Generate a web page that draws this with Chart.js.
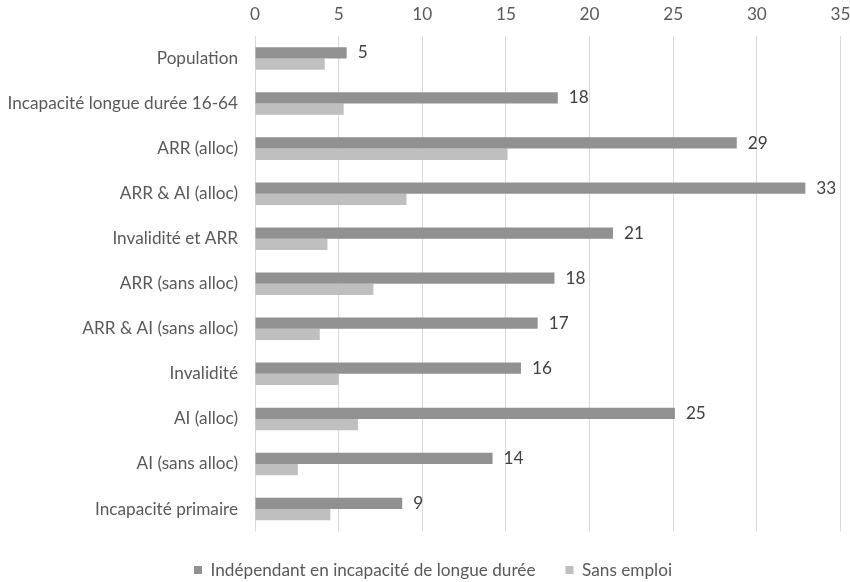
<!DOCTYPE html>
<html>
<head>
<meta charset="utf-8">
<script src="https://cdn.jsdelivr.net/npm/chart.js@4.4.0/dist/chart.umd.min.js"></script>
<style>
  html, body { margin: 0; padding: 0; background: #ffffff; }
  #wrap { width: 850px; height: 582px; position: relative; }
</style>
</head>
<body>
<div id="wrap"><canvas id="c" width="850" height="582"></canvas></div>
<script>
const categories = [
  "Population",
  "Incapacité longue durée 16-64",
  "ARR (alloc)",
  "ARR & AI (alloc)",
  "Invalidité et ARR",
  "ARR (sans alloc)",
  "ARR & AI (sans alloc)",
  "Invalidité",
  "AI (alloc)",
  "AI (sans alloc)",
  "Incapacité primaire"
];
const seriesNames = ["Indépendant en incapacité de longue durée", "Sans emploi"];
const independant = [5.48, 18.1, 28.8, 32.9, 21.4, 17.9, 16.9, 15.9, 25.1, 14.2, 8.8];
const sansEmploi = [4.17, 5.3, 15.1, 9.06, 4.33, 7.08, 3.87, 5.01, 6.15, 2.56, 4.5];
const xTicks = [0, 5, 10, 15, 20, 25, 30, 35];

const FONT = "Lato, 'Open Sans', sans-serif";
const FS = 17.2;
const TEXT = "#595959";

const valueLabels = {
  id: 'valueLabels',
  afterDatasetsDraw(chart) {
    const ctx = chart.ctx;
    const meta = chart.getDatasetMeta(0);
    ctx.save();
    ctx.font = FS + "px " + FONT;
    ctx.fillStyle = "#404040";
    ctx.textAlign = "left";
    ctx.textBaseline = "middle";
    meta.data.forEach((bar, i) => {
      ctx.fillText(String(Math.round(independant[i])), bar.x + 11, bar.y);
    });
    ctx.restore();
  }
};

const legendTweak = {
  id: 'legendTweak',
  beforeLayout(chart) {
    const lg = chart.legend;
    if (lg && !lg._patched) {
      const f = lg.fit;
      lg.fit = function () { f.call(this); this.height = 50.5; };
      lg._patched = true;
    }
  },
  afterLayout(chart) {
    const lg = chart.legend;
    if (lg) { lg.left += 8; lg.right += 8; }
  }
};

new Chart(document.getElementById('c'), {
  type: 'bar',
  data: {
    labels: categories,
    datasets: [
      { label: seriesNames[0], data: independant, backgroundColor: '#919191',
        categoryPercentage: 0.5, barPercentage: 1.0, borderWidth: 0 },
      { label: seriesNames[1], data: sansEmploi, backgroundColor: '#bfbfbf',
        categoryPercentage: 0.5, barPercentage: 1.0, borderWidth: 0 }
    ]
  },
  options: {
    indexAxis: 'y',
    responsive: false,
    animation: false,
    devicePixelRatio: 1,
    layout: { padding: { left: 0, right: 0, top: 0, bottom: 0 } },
    scales: {
      x: {
        position: 'top',
        min: 0, max: 35,
        afterBuildTicks(axis) { axis.ticks = xTicks.map(v => ({ value: v })); },
        afterFit(axis) { axis.height = 36; axis.paddingRight = 9.5; axis.paddingLeft = 0; },
        grid: { color: '#d9d9d9', lineWidth: 1, drawTicks: false, tickLength: 0 },
        border: { display: false },
        ticks: { color: TEXT, font: { family: FONT, size: FS }, padding: 11.5 }
      },
      y: {
        afterFit(axis) { axis.width = 255; axis.paddingTop = 0; axis.paddingBottom = 0; },
        grid: { display: false, drawTicks: false, tickLength: 0 },
        border: { display: false },
        ticks: { color: TEXT, font: { family: FONT, size: FS }, padding: 17, autoSkip: false }
      }
    },
    plugins: {
      legend: {
        position: 'bottom',
        labels: {
          color: TEXT,
          font: { family: FONT, size: FS },
          boxWidth: 8, boxHeight: 8,
          padding: 30
        }
      },
      tooltip: { enabled: false }
    }
  },
  plugins: [valueLabels, legendTweak]
});
</script>
</body>
</html>
